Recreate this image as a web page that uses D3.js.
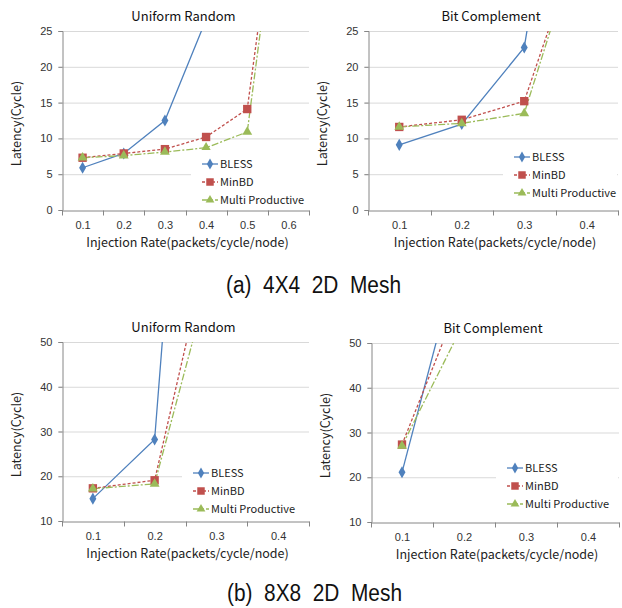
<!DOCTYPE html>
<html>
<head>
<meta charset="utf-8">
<script src="https://d3js.org/d3.v7.min.js"></script>
<style>
  body { margin: 0; background: #fff; }
  svg { font-family: "Noto Sans CJK KR", "Noto Sans", sans-serif; }
  .tick text { fill: #333; font-size: 11px; }
  .ttl { font-size: 13px; fill: #111; }
  .axttl { font-size: 12.5px; fill: #222; }
  .leg { font-size: 11px; fill: #222; }
  .cap { font-family: "Liberation Sans", Arial, sans-serif; font-size: 23px; fill: #111; }
</style>
</head>
<body>
<div id="chart"></div>
<script>
  // categories (injection rate)
  var catsSix = ["0.1", "0.2", "0.3", "0.4", "0.5", "0.6"],
    catsFour = ["0.1", "0.2", "0.3", "0.4"];

  // series names
  var seriesNames = ["BLESS", "MinBD", "Multi Productive"];

  // 4x4 mesh, uniform random (values past the top are clipped)
  var ur4Bless = [5.9, 7.9, 12.5, 26.6],
    ur4MinBD = [7.3, 7.9, 8.5, 10.2, 14.1, 56.7],
    ur4Multi = [7.3, 7.6, 8.1, 8.7, 10.9, 55];

  // 4x4 mesh, bit complement
  var bc4Bless = [9.1, 12.0, 22.7, 76],
    bc4MinBD = [11.6, 12.6, 15.2, 40.8],
    bc4Multi = [11.6, 12.1, 13.5, 41.2];

  // 8x8 mesh, uniform random
  var ur8Bless = [15.0, 28.2, 204],
    ur8MinBD = [17.3, 19.1, 79],
    ur8Multi = [17.2, 18.3, 70];

  // 8x8 mesh, bit complement
  var bc8Bless = [21.1, 73.8],
    bc8MinBD = [27.3, 61.9],
    bc8Multi = [27.0, 54.6];

  var yTicksTop = [0, 5, 10, 15, 20, 25],
    yTicksBottom = [10, 20, 30, 40, 50];

  var colors = ["#4F81BD", "#C0504D", "#9BBB59"],
    dashes = [null, "3,2", "7,2,2,2"],
    shapes = [d3.symbolDiamond, d3.symbolSquare, d3.symbolTriangle],
    symSize = [42, 70, 42];

  var panels = [
    {title: "Uniform Random", cats: catsSix, series: [ur4Bless, ur4MinBD, ur4Multi], ticks: yTicksTop,
      x0: 62, x1: 309, y0: 31, y1: 210, leg: {x: 191, y: 150, w: 118, h: 58, row: 164}},
    {title: "Bit Complement", cats: catsFour, series: [bc4Bless, bc4MinBD, bc4Multi], ticks: yTicksTop,
      x0: 368, x1: 618, y0: 31, y1: 210, leg: {x: 503, y: 145, w: 114, h: 58, row: 157}},
    {title: "Uniform Random", cats: catsFour, series: [ur8Bless, ur8MinBD, ur8Multi], ticks: yTicksBottom,
      x0: 62, x1: 309, y0: 342, y1: 521, leg: {x: 182, y: 461, w: 127, h: 57, row: 473}},
    {title: "Bit Complement", cats: catsFour, series: [bc8Bless, bc8MinBD, bc8Multi], ticks: yTicksBottom,
      x0: 371, x1: 619, y0: 343, y1: 522, leg: {x: 496, y: 456, w: 122, h: 57, row: 468}}
  ];

  var captions = [
    {text: "(a)  4X4  2D  Mesh", x: 226, y: 293},
    {text: "(b)  8X8  2D  Mesh", x: 227, y: 601}
  ];

  var svg = d3.select("#chart").append("svg").attr("width", 622).attr("height", 608);

  panels.forEach(function (p, i) {
    var g = svg.append("g");
    var x = d3.scalePoint().domain(p.cats).range([p.x0, p.x1]).padding(0.5);
    var xb = d3.scaleBand().domain(p.cats).range([p.x0, p.x1]);
    var y = d3.scaleLinear().domain(d3.extent(p.ticks)).range([p.y1, p.y0]);

    // gridlines
    g.append("g").selectAll("line").data(p.ticks.slice(1)).enter().append("line")
      .attr("x1", p.x0 - 4).attr("x2", p.x1)
      .attr("y1", function (d) { return y(d) + 0.5; }).attr("y2", function (d) { return y(d) + 0.5; })
      .attr("stroke", "#d9d9d9");

    // y axis
    var ya = g.append("g").attr("transform", "translate(" + (p.x0 + 0.5) + ",0)")
      .call(d3.axisLeft(y).tickValues(p.ticks).tickSize(4).tickPadding(6));
    ya.select(".domain").attr("stroke", "#868686");
    ya.selectAll(".tick line").attr("stroke", "#868686");

    // x axis (category, ticks between)
    var xa = g.append("g").attr("transform", "translate(0," + (p.y1 + 0.5) + ")")
      .call(d3.axisBottom(x).tickSize(0).tickPadding(11));
    xa.select(".domain").attr("stroke", "#868686");
    var edges = p.cats.map(function (c) { return xb(c); }).concat([p.x1]);
    xa.selectAll(".edge").data(edges).enter().append("line").attr("class", "edge")
      .attr("x1", function (d) { return Math.round(d) + 0.5; }).attr("x2", function (d) { return Math.round(d) + 0.5; })
      .attr("y1", 0).attr("y2", 5).attr("stroke", "#868686");

    // titles
    g.append("text").attr("class", "ttl").attr("x", (p.x0 + p.x1) / 2 - 2).attr("y", p.y0 - 10)
      .attr("text-anchor", "middle").text(p.title);
    g.append("text").attr("class", "axttl").attr("text-anchor", "middle")
      .attr("transform", "translate(" + (p.x0 - 41) + "," + ((p.y0 + p.y1) / 2 + 3) + ") rotate(-90)")
      .text("Latency(Cycle)");
    g.append("text").attr("class", "axttl").attr("text-anchor", "middle")
      .attr("x", (p.x0 + p.x1) / 2 + 2).attr("y", p.y1 + 37)
      .text("Injection Rate(packets/cycle/node)");

    // series, clipped to plot area
    var cid = "clip" + i;
    g.append("clipPath").attr("id", cid).append("rect")
      .attr("x", p.x0).attr("y", p.y0).attr("width", p.x1 - p.x0).attr("height", p.y1 - p.y0);
    var plot = g.append("g").attr("clip-path", "url(#" + cid + ")");
    var line = d3.line().x(function (d, j) { return x(p.cats[j]); }).y(function (d) { return y(d); });

    p.series.forEach(function (vals, s) {
      plot.append("path").datum(vals).attr("d", line)
        .attr("fill", "none").attr("stroke", colors[s]).attr("stroke-width", 1.3)
        .attr("stroke-dasharray", dashes[s]);
    });
    p.series.forEach(function (vals, s) {
      plot.selectAll(".m" + s).data(vals).enter().append("path").attr("class", "m" + s)
        .attr("transform", function (d, j) { return "translate(" + x(p.cats[j]) + "," + y(d) + ")"; })
        .attr("d", d3.symbol().type(shapes[s]).size(symSize[s]))
        .attr("fill", colors[s]);
    });

    // legend
    var L = p.leg;
    var lg = g.append("g");
    lg.append("rect").attr("x", L.x).attr("y", L.y).attr("width", L.w).attr("height", L.h).attr("fill", "#fff");
    seriesNames.forEach(function (name, s) {
      var ry = L.row + s * 18;
      lg.append("line").attr("x1", L.x + 11).attr("x2", L.x + 27).attr("y1", ry).attr("y2", ry)
        .attr("stroke", colors[s]).attr("stroke-width", 1.3).attr("stroke-dasharray", dashes[s]);
      lg.append("path").attr("transform", "translate(" + (L.x + 19) + "," + ry + ")")
        .attr("d", d3.symbol().type(shapes[s]).size(symSize[s] * 0.8)).attr("fill", colors[s]);
      lg.append("text").attr("class", "leg").attr("x", L.x + 29).attr("y", ry + 4).text(name);
    });
  });

  svg.selectAll(".cap").data(captions).enter().append("text").attr("class", "cap")
    .attr("x", function (d) { return d.x; }).attr("y", function (d) { return d.y; })
    .attr("textLength", 175).attr("lengthAdjust", "spacingAndGlyphs")
    .attr("xml:space", "preserve")
    .text(function (d) { return d.text; });
</script>
</body>
</html>
